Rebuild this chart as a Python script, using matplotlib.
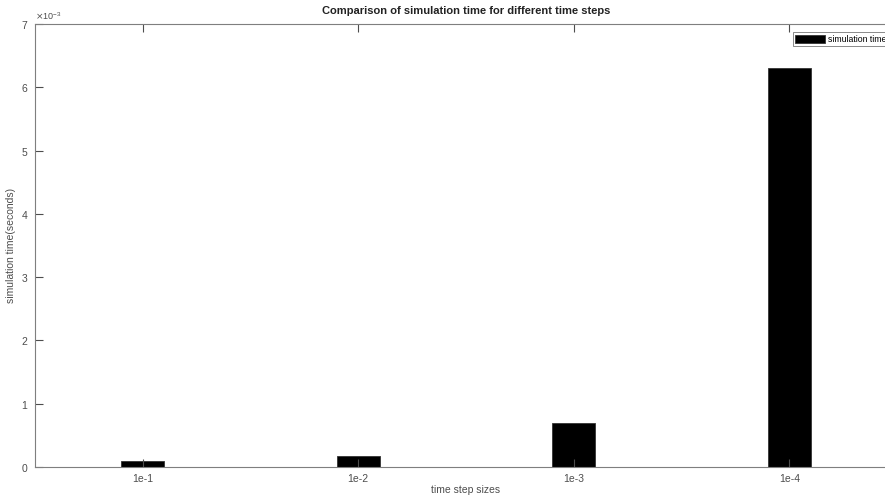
import matplotlib
matplotlib.use("Agg")
import matplotlib.pyplot as plt
from matplotlib.ticker import ScalarFormatter

# 데이터
step_labels = ["1e-1", "1e-2", "1e-3", "1e-4"]
sim_time = [0.095e-3, 0.17e-3, 0.69e-3, 6.3e-3]

plt.rcParams["font.family"] = ["Liberation Sans", "DejaVu Sans"]
grey = "#4d4d4d"

fig = plt.figure(figsize=(8.85, 4.99), dpi=100)
# 축이 그림 오른쪽 밖으로 조금 넘어감 (원본과 동일)
ax = fig.add_axes([35 / 885, 32 / 499, 862 / 885, 443 / 499])

pos = list(range(1, len(step_labels) + 1))
ax.bar(pos, sim_time, width=0.2, color="black", edgecolor="#333333",
       linewidth=0.6, label="simulation time")

ax.set_xlim(0.5, 4.5)
ax.set_ylim(0, 7e-3)
ax.set_xticks(pos)
ax.set_xticklabels(step_labels)
ax.set_yticks([i * 1e-3 for i in range(8)])

fmt = ScalarFormatter(useMathText=True)
fmt.set_powerlimits((-2, 2))
ax.yaxis.set_major_formatter(fmt)
ax.yaxis.get_offset_text().set_fontsize(6.5)
ax.yaxis.get_offset_text().set_color(grey)

ax.tick_params(direction="in", length=6, width=0.8, colors=grey,
               labelsize=7.5, top=True, right=True)
ax.tick_params(axis="y", pad=5)
ax.tick_params(axis="x", pad=5)
for s in ax.spines.values():
    s.set_color("#7f7f7f")
    s.set_linewidth(0.8)

ax.set_xlabel("time step sizes", fontsize=7.5, color=grey, labelpad=1)
ax.set_ylabel("simulation time(seconds)", fontsize=7.5, color=grey, labelpad=3)
ax.set_title("Comparison of simulation time for different time steps",
             fontsize=8, fontweight="bold", color="#222222", pad=7)

leg = ax.legend(loc="upper left", bbox_to_anchor=(0.879, 0.982),
                fontsize=6.3, frameon=True, fancybox=False,
                handlelength=3.4, handleheight=1.0, borderpad=0.3,
                handletextpad=0.3, borderaxespad=0)
leg.get_frame().set_edgecolor("#555555")
leg.get_frame().set_linewidth(0.6)

fig.savefig("out.png", dpi=100)
